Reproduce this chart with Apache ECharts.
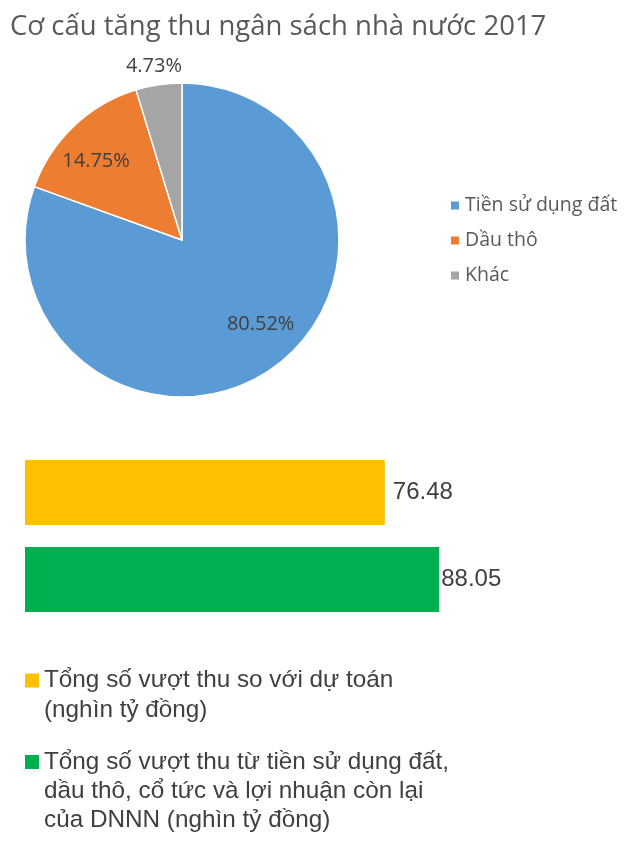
<!DOCTYPE html>
<html>
<head>
<meta charset="utf-8">
<script src="https://cdn.jsdelivr.net/npm/echarts@6/dist/echarts.min.js"></script>
<style>html,body{margin:0;padding:0;background:#fff;}#c{width:630px;height:847px;}</style>
</head>
<body>
<div id="c"></div>
<script>
// ---- data ----
var title = 'Cơ cấu tăng thu ngân sách nhà nước 2017';
var pieNames = ['Tiền sử dụng đất', 'Dầu thô', 'Khác'];
var pieValues = [80.52, 14.75, 4.73];
var pieColors = ['#5B9BD5', '#ED7D31', '#A5A5A5'];
var barCategories = ['vuot_thu_du_toan', 'vuot_thu_nguon'];
var barNames = [
  'Tổng số vượt thu so với dự toán\n(nghìn tỷ đồng)',
  'Tổng số vượt thu từ tiền sử dụng đất,\ndầu thô, cổ tức và lợi nhuận còn lại\ncủa DNNN (nghìn tỷ đồng)'
];
var barValues = [76.48, 88.05];
var barColors = ['#FFC000', '#00B050'];

var pieFont = "'Open Sans', 'Noto Sans', sans-serif";
var barFont = "'Liberation Sans', Arial, sans-serif";

var chart = echarts.init(document.getElementById('c'), null, {renderer: 'canvas'});

// label nudges so the inside labels sit where the reference puts them
var pieLabelOffsets = [[12, -11], [-6, 5], [-2, 0]];

function pieData(showIdx) {
  return pieNames.map(function (n, i) {
    return {
      name: n, value: pieValues[i],
      label: {show: showIdx.indexOf(i) >= 0, offset: pieLabelOffsets[i]}
    };
  });
}
var pctFmt = function (p) { return p.value.toFixed(2) + '%'; };
var overlayBase = {
  type: 'pie', center: [182, 240], silent: true, clockwise: true, startAngle: 90,
  itemStyle: {color: 'rgba(0,0,0,0)', borderWidth: 0},
  labelLine: {show: false},
  emphasis: {disabled: true},
  tooltip: {show: false}
};
// put the first line of a multi-line legend entry level with its swatch
var legendFmt = function (name) {
  var k = name.split('\n').length;
  return new Array(k).join('\n') + name;
};

var option = {
  backgroundColor: '#ffffff',
  animation: false,
  title: {
    text: title, left: 10, top: 13, padding: 0,
    textStyle: {fontFamily: pieFont, fontSize: 27.5, fontWeight: 'normal', color: '#595959'}
  },
  legend: [
    {
      orient: 'vertical', left: 449, top: 195, padding: 0,
      itemWidth: 10, itemHeight: 10, itemGap: 14, icon: 'rect',
      data: pieNames,
      textStyle: {fontFamily: pieFont, fontSize: 19.5, color: '#595959', lineHeight: 21}
    },
    {
      orient: 'vertical', left: 25, top: 635.5, padding: 0,
      itemWidth: 14, itemHeight: 14, icon: 'rect', itemGap: 10,
      data: [barNames[0]], formatter: legendFmt,
      textStyle: {fontFamily: barFont, fontSize: 24.3, color: '#404040', lineHeight: 30}
    },
    {
      orient: 'vertical', left: 25, top: 689.5, padding: 0,
      itemWidth: 14, itemHeight: 14, icon: 'rect', itemGap: 10,
      data: [barNames[1]], formatter: legendFmt,
      textStyle: {fontFamily: barFont, fontSize: 24.3, color: '#404040', lineHeight: 29}
    }
  ],
  grid: {left: 25, width: 605, top: 449, height: 174, containLabel: false},
  xAxis: {type: 'value', min: 0, max: 128.6, show: false},
  yAxis: {type: 'category', data: barCategories, inverse: true, show: false},
  series: [
    {
      type: 'pie', name: 'pie', center: [182, 240], radius: 157,
      clockwise: true, startAngle: 90,
      data: pieNames.map(function (n, i) {
        return {name: n, value: pieValues[i], itemStyle: {color: pieColors[i]}};
      }),
      itemStyle: {borderColor: '#ffffff', borderWidth: 1.5},
      label: {show: false}, labelLine: {show: false}
    },
    Object.assign({}, overlayBase, {
      name: 'lbl1', radius: 226,
      data: pieData([0, 1]),
      label: {position: 'inside', formatter: pctFmt, fontFamily: pieFont, fontSize: 20, color: '#404040'}
    }),
    Object.assign({}, overlayBase, {
      name: 'lbl2', radius: 346,
      data: pieData([2]),
      label: {position: 'inside', formatter: pctFmt, fontFamily: pieFont, fontSize: 20, color: '#404040'}
    }),
    {
      type: 'bar', name: barNames[0], barWidth: 65, barGap: '-100%',
      data: [barValues[0], '-'],
      itemStyle: {color: barColors[0]},
      label: {show: true, position: 'right', distance: 8, fontFamily: barFont, fontSize: 24, color: '#404040',
        formatter: function (p) { return p.value.toFixed(2); }}
    },
    {
      type: 'bar', name: barNames[1], barWidth: 65, barGap: '-100%',
      data: ['-', barValues[1]],
      itemStyle: {color: barColors[1]},
      label: {show: true, position: 'right', distance: 2, fontFamily: barFont, fontSize: 24, color: '#404040',
        formatter: function (p) { return p.value.toFixed(2); }}
    }
  ]
};
chart.setOption(option);
</script>
</body>
</html>
